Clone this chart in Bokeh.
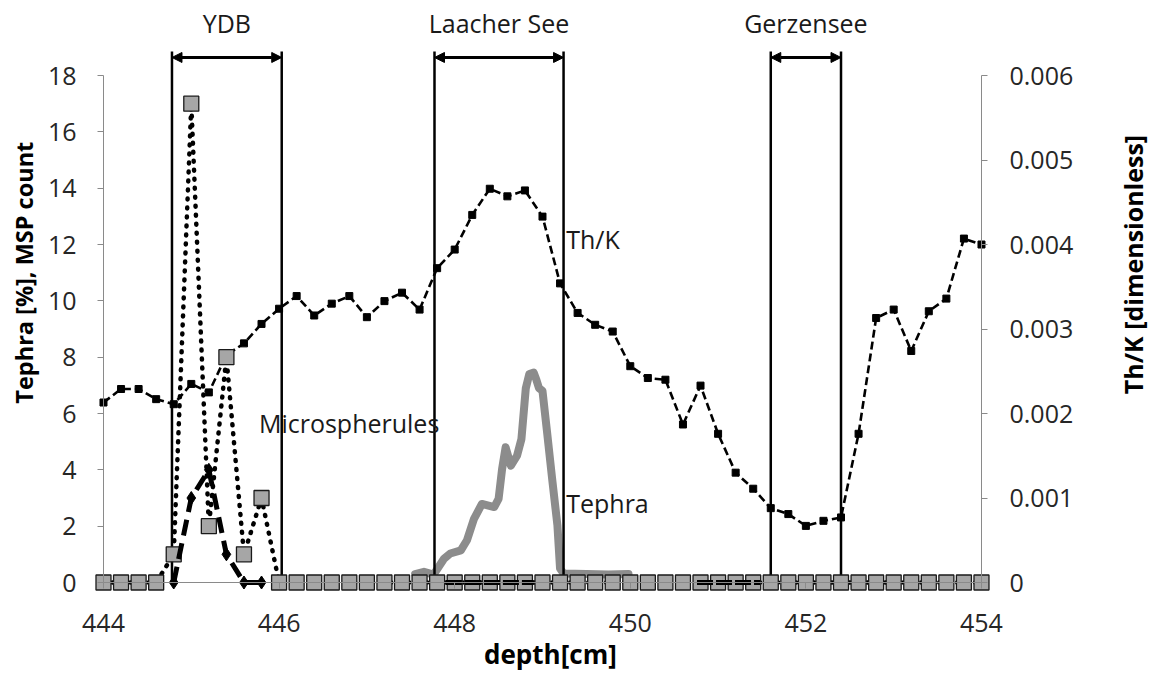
import math
from bokeh.plotting import figure
from bokeh.models import LinearAxis, Range1d, FixedTicker, NumeralTickFormatter, Arrow, NormalHead
from bokeh.core.properties import value
from bokeh.embed import file_html
from bokeh.resources import INLINE

# ---------------- data ----------------
depth = [444.0, 444.2, 444.4, 444.6, 444.8, 445.0, 445.2, 445.4, 445.6, 445.8,
         446.0, 446.2, 446.4, 446.6, 446.8, 447.0, 447.2, 447.4, 447.6, 447.8,
         448.0, 448.2, 448.4, 448.6, 448.8, 449.0, 449.2, 449.4, 449.6, 449.8,
         450.0, 450.2, 450.4, 450.6, 450.8, 451.0, 451.2, 451.4, 451.6, 451.8,
         452.0, 452.2, 452.4, 452.6, 452.8, 453.0, 453.2, 453.4, 453.6, 453.8, 454.0]

msp_count = [0, 0, 0, 0, 1, 17, 2, 8, 1, 3,
             0, 0, 0, 0, 0, 0, 0, 0, 0, 0,
             0, 0, 0, 0, 0, 0, 0, 0, 0, 0,
             0, 0, 0, 0, 0, 0, 0, 0, 0, 0,
             0, 0, 0, 0, 0, 0, 0, 0, 0, 0, 0]

th_k = [0.00213, 0.00229, 0.00229, 0.00217, 0.00211, 0.00235, 0.00225, 0.00269, 0.00283, 0.00306,
        0.00324, 0.00339, 0.00316, 0.00330, 0.00339, 0.00314, 0.00333, 0.00343, 0.00323, 0.00372,
        0.00394, 0.00435, 0.00466, 0.00457, 0.00464, 0.00433, 0.00354, 0.00319, 0.00305, 0.00297,
        0.00256, 0.00242, 0.00240, 0.00187, 0.00233, 0.00176, 0.00130, 0.00111, 0.00088, 0.00081,
        0.00067, 0.00073, 0.00077, 0.00176, 0.00313, 0.00323, 0.00274, 0.00321, 0.00336, 0.00407, 0.00400]

sph_depth = [444.8, 445.0, 445.2, 445.4, 445.6, 445.8]
sph_value = [0, 3, 4, 1, 0, 0]
sph_zero_a = [447.9, 448.9]
sph_zero_b = [450.76, 451.48]

tephra_depth = [447.55, 447.65, 447.76, 447.88, 447.95, 448.07, 448.14, 448.22, 448.31, 448.45,
                448.50, 448.54, 448.58, 448.64, 448.71, 448.76, 448.81, 448.85, 448.90, 448.93,
                448.96, 449.00, 449.05, 449.11, 449.17, 449.20, 449.24, 449.50, 449.75, 449.98]
tephra_value = [0.30, 0.38, 0.28, 0.85, 1.03, 1.14, 1.50, 2.26, 2.79, 2.68,
                2.97, 4.03, 4.80, 4.15, 4.50, 5.09, 6.90, 7.40, 7.45, 7.20,
                6.90, 6.80, 5.40, 3.68, 2.03, 0.50, 0.32, 0.30, 0.28, 0.30]

band_names = ["YDB", "Laacher See", "Gerzensee"]
band_start = [444.78, 447.77, 451.60]
band_end = [446.03, 449.24, 452.40]

left_ticks = [0, 2, 4, 6, 8, 10, 12, 14, 16, 18]
right_ticks = [0, 0.001, 0.002, 0.003, 0.004, 0.005, 0.006]
x_ticks = [444, 446, 448, 450, 452, 454]

series_labels = ["Microspherules", "Th/K", "Tephra"]
series_label_x = [445.77, 449.27, 449.27]
series_label_y = [5.68, 12.21, 2.84]

x_title = "depth[cm]"
left_title = "Tephra [%], MSP count"
right_title = "Th/K [dimensionless]"

# ---------------- figure ----------------
FONT = "Open Sans"
X0, X1 = 442.827, 455.925
Y0, Y1 = -3.266, 20.663
p = figure(width=1150, height=674, output_backend="svg", toolbar_location=None,
           x_range=Range1d(X0, X1), y_range=Range1d(Y0, Y1),
           min_border_left=0, min_border_right=0, min_border_top=0, min_border_bottom=0,
           x_axis_location=None, y_axis_location=None)
p.outline_line_color = None
p.grid.visible = False
p.background_fill_color = "white"
p.border_fill_color = "white"
p.extra_y_ranges = {"thk": Range1d(Y0 / 3000, Y1 / 3000)}

ax_gray = "#8a8a8a"

xaxis = LinearAxis(fixed_location=0, bounds=(444, 454), ticker=FixedTicker(ticks=x_ticks))
yaxis = LinearAxis(fixed_location=444, bounds=(0, 18), ticker=FixedTicker(ticks=left_ticks))
raxis = LinearAxis(fixed_location=454, y_range_name="thk", bounds=(0, 0.006),
                   ticker=FixedTicker(ticks=right_ticks), formatter=NumeralTickFormatter(format="0.[000]"))
for ax in (xaxis, yaxis, raxis):
    ax.axis_line_color = ax_gray
    ax.major_tick_line_color = ax_gray
    ax.major_tick_out = 6
    ax.major_tick_in = 0
    ax.minor_tick_line_color = None
    ax.major_label_text_font = FONT
    ax.major_label_text_font_size = "25px"
    ax.major_label_text_color = "#262626"
xaxis.major_label_standoff = 25
yaxis.major_label_standoff = 21
raxis.major_label_standoff = 22
p.add_layout(xaxis, "below")
p.add_layout(yaxis, "left")
p.add_layout(raxis, "right")

# axis titles (placed as rotated texts, like the reference)
p.text(x=[449.09], y=[-2.55], text=[x_title], text_font=value(FONT), text_font_size="26px",
       text_font_style="bold", text_align="center", text_baseline="middle", text_color="black")
p.text(x=[443.10], y=[11.0], text=[left_title], text_font=value(FONT), text_font_size="23.5px",
       text_font_style="bold", text_align="center", text_baseline="middle", text_color="black",
       angle=math.pi / 2)
p.text(x=[455.72], y=[11.29], text=[right_title], text_font=value(FONT), text_font_size="25px",
       text_font_style="bold", text_align="center", text_baseline="middle", text_color="black",
       angle=math.pi / 2)

# Th/K
p.line(depth, th_k, y_range_name="thk", line_color="black", line_width=2.6, line_dash="8 4")
p.scatter(depth, th_k, y_range_name="thk", marker="square", size=7, fill_color="black", line_color="black")

# Tephra
p.line(tephra_depth, tephra_value, line_color="#8c8c8c", line_width=8, line_join="round", line_cap="round")

# event bands
band_top = [18.85] * len(band_names)
band_zero = [0] * len(band_names)
p.segment(x0=band_start, y0=band_zero, x1=band_start, y1=band_top, line_color="black", line_width=2.5)
p.segment(x0=band_end, y0=band_zero, x1=band_end, y1=band_top, line_color="black", line_width=2.5)
for xs, xe in zip(band_start, band_end):
    p.add_layout(Arrow(x_start=xs, y_start=18.64, x_end=xe, y_end=18.64, line_width=3, line_color="black",
                       start=NormalHead(size=10, fill_color="black", line_color="black"),
                       end=NormalHead(size=10, fill_color="black", line_color="black")))
band_mid = [(a + b) / 2 for a, b in zip(band_start, band_end)]
p.text(x=band_mid, y=[19.87] * len(band_names), text=band_names, text_font=value(FONT),
       text_font_size="25px", text_align="center", text_baseline="middle", text_color="#1a1a1a")

# MSP count
p.line(depth, msp_count, line_color="black", line_width=4.5, line_dash="1 8", line_cap="round")
p.scatter(depth, msp_count, marker="square", size=15, fill_color="#a6a6a6", line_color="#1a1a1a", line_width=1.3)

# black diamond series
p.line(sph_depth, sph_value, line_color="black", line_width=5, line_dash="16 8")
p.line(sph_zero_a, [0, 0], line_color="black", line_width=5, line_dash="16 3")
p.line(sph_zero_b, [0, 0], line_color="black", line_width=5, line_dash="16 3")
p.scatter(sph_depth, sph_value, marker="diamond", size=13, fill_color="black", line_color="black")

# series labels
p.text(x=series_label_x, y=series_label_y, text=series_labels, text_font=value(FONT),
       text_font_size="25px", text_align="left", text_baseline="middle", text_color="#1a1a1a")

open("out.html", "w").write(file_html(p, INLINE))
